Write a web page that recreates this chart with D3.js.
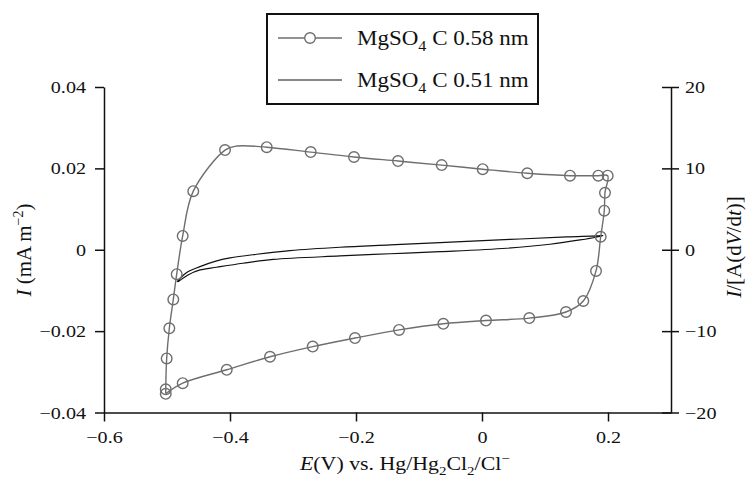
<!DOCTYPE html>
<html>
<head>
<meta charset="utf-8">
<script src="https://cdn.jsdelivr.net/npm/d3@7"></script>
<style>
  html, body { margin: 0; padding: 0; background: #fff; }
  svg { display: block; }
  text { font-family: "Liberation Serif", "Times New Roman", serif; fill: #111; }
</style>
</head>
<body>
<svg id="chart" width="754" height="486"></svg>
<script>
// ---------- data ----------
const xTicks = [-0.6, -0.4, -0.2, 0, 0.2];
const xTickLabels = ["\u22120.6", "\u22120.4", "\u22120.2", "0", "0.2"];
const yTicks = [0.04, 0.02, 0, -0.02, -0.04];
const yTickLabels = ["0.04", "0.02", "0", "\u22120.02", "\u22120.04"];
const y2Ticks = [20, 10, 0, -10, -20];
const y2TickLabels = ["20", "10", "0", "\u221210", "\u221220"];
const seriesNames = ["MgSO4 C 0.58 nm", "MgSO4 C 0.51 nm"];

// MgSO4 C 0.58 nm – line vertices (closed loop)
const line058E = [-0.502, -0.502, -0.5005, -0.4963, -0.490, -0.4846, -0.4751, -0.4583, -0.4079, -0.389,
  -0.3417, -0.2719, -0.2032, -0.1333, -0.0640, 0.0011, 0.0719, 0.1397, 0.1846, 0.1995,
  0.1952, 0.1941, 0.1884, 0.1810, 0.1608, 0.1333, 0.0751, 0.0063, -0.0614, -0.1317,
  -0.2016, -0.2687, -0.3365, -0.4052, -0.4751, -0.502];
const line058I = [-0.0354, -0.0343, -0.0267, -0.0193, -0.0122, -0.0060, 0.0034, 0.0144, 0.0245, 0.0255,
  0.0252, 0.0240, 0.0228, 0.0218, 0.0208, 0.0198, 0.0188, 0.0182, 0.0182, 0.0182,
  0.0140, 0.0096, 0.0032, -0.0052, -0.0126, -0.0153, -0.0168, -0.0174, -0.0182, -0.0197,
  -0.0217, -0.0238, -0.0263, -0.0295, -0.0328, -0.0354];
// MgSO4 C 0.58 nm – circle markers
const mark058E = [-0.502, -0.502, -0.5005, -0.4963, -0.490, -0.4846, -0.4751, -0.4583, -0.4079,
  -0.3417, -0.2719, -0.2032, -0.1333, -0.0640, 0.0011, 0.0719, 0.1397, 0.1846, 0.1995,
  0.1952, 0.1941, 0.1884, 0.1810, 0.1608, 0.1333, 0.0751, 0.0063, -0.0614, -0.1317,
  -0.2016, -0.2687, -0.3365, -0.4052, -0.4751];
const mark058I = [-0.0354, -0.0343, -0.0267, -0.0193, -0.0122, -0.0060, 0.0034, 0.0144, 0.0245,
  0.0252, 0.0240, 0.0228, 0.0218, 0.0208, 0.0198, 0.0188, 0.0182, 0.0182, 0.0182,
  0.0140, 0.0096, 0.0032, -0.0052, -0.0126, -0.0153, -0.0168, -0.0174, -0.0182, -0.0197,
  -0.0217, -0.0238, -0.0263, -0.0295, -0.0328];

// MgSO4 C 0.51 nm – thin loop (upper branch then lower branch back)
const line051E = [-0.4841, -0.4698, -0.4476, -0.4238, -0.4000, -0.3576, -0.3048, -0.2254, -0.1460, -0.0667,
  0.0444, 0.1344, 0.1821, 0.1921, 0.1821, 0.1556, 0.1079, 0.0392, -0.0667, -0.1460,
  -0.2254, -0.3317, -0.3794, -0.4211, -0.4476, -0.4667, -0.4825];
const line051I = [-0.0079, -0.0057, -0.00415, -0.00287, -0.00201, -0.00111, -0.00022, 0.00061, 0.00118, 0.00174,
  0.00253, 0.00314, 0.00339, 0.00351, 0.00314, 0.00241, 0.00135, 0.00037, -0.00047, -0.00098,
  -0.00152, -0.00238, -0.00332, -0.00430, -0.00496, -0.00619, -0.0079];

// ---------- layout ----------
const svg = d3.select("#chart");
const mLeft = 104, mRight = 671, mTop = 87, mBottom = 412.5;
const x = d3.scaleLinear().domain([-0.6, 0.3]).range([mLeft, mRight]);
const y = d3.scaleLinear().domain([-0.04, 0.04]).range([mBottom, mTop]);
const y2 = d3.scaleLinear().domain([-20, 20]).range([mBottom, mTop]);
const STRETCH = 1.15;

function stretch(sel, f) {
  sel.each(function () {
    const L = this.getComputedTextLength();
    d3.select(this).attr("textLength", L * f).attr("lengthAdjust", "spacingAndGlyphs");
  });
}

// ---------- axes ----------
const axisColor = "#111";
// bottom
const gx = svg.append("g").attr("transform", `translate(0,${mBottom})`)
  .call(d3.axisBottom(x).tickValues(xTicks).tickSize(9).tickSizeOuter(0).tickFormat((d, i) => xTickLabels[i]));
gx.select(".domain").attr("stroke", axisColor).attr("stroke-width", 1.5);
gx.selectAll(".tick line").attr("stroke", axisColor).attr("stroke-width", 1.5);
gx.selectAll(".tick text").attr("font-size", 17.5).attr("y", 18).attr("dy", "0.71em")
  .attr("font-family", "Liberation Serif").attr("fill", "#111");
stretch(gx.selectAll(".tick text"), STRETCH);

// left
const gy = svg.append("g").attr("transform", `translate(${mLeft},0)`)
  .call(d3.axisLeft(y).tickValues(yTicks).tickSize(9).tickSizeOuter(0).tickFormat((d, i) => yTickLabels[i]));
gy.select(".domain").attr("stroke", axisColor).attr("stroke-width", 1.5);
gy.selectAll(".tick line").attr("stroke", axisColor).attr("stroke-width", 1.5);
gy.selectAll(".tick text").attr("font-size", 17.5).attr("x", -18)
  .attr("font-family", "Liberation Serif").attr("fill", "#111");
stretch(gy.selectAll(".tick text"), STRETCH);

// right (ticks crossing the axis)
const gy2 = svg.append("g").attr("transform", `translate(${mRight},0)`)
  .call(d3.axisRight(y2).tickValues(y2Ticks).tickSize(9).tickSizeOuter(0).tickFormat((d, i) => y2TickLabels[i]));
gy2.select(".domain").attr("stroke", axisColor).attr("stroke-width", 1.5);
gy2.selectAll(".tick line").attr("stroke", axisColor).attr("stroke-width", 1.5).attr("x1", -9).attr("x2", 8);
gy2.selectAll(".tick text").attr("font-size", 17.5).attr("x", 14)
  .attr("font-family", "Liberation Serif").attr("fill", "#111");
stretch(gy2.selectAll(".tick text"), STRETCH);

// ---------- series ----------
const pts058 = line058E.map((e, i) => [e, line058I[i]]);
const marks058 = mark058E.map((e, i) => [e, mark058I[i]]);
const pts051 = line051E.map((e, i) => [e, line051I[i]]);
const lineGen = d3.line().x(d => x(d[0])).y(d => y(d[1])).curve(d3.curveCatmullRom.alpha(0.5));

svg.append("path").datum(pts051).attr("d", lineGen)
  .attr("fill", "none").attr("stroke", "#111").attr("stroke-width", 1.2);

svg.append("path").datum(pts058).attr("d", lineGen)
  .attr("fill", "none").attr("stroke", "#6e6e6e").attr("stroke-width", 1.4);

svg.append("g").selectAll("circle").data(marks058).join("circle")
  .attr("cx", d => x(d[0])).attr("cy", d => y(d[1])).attr("r", 5.3)
  .attr("fill", "none").attr("stroke", "#6e6e6e").attr("stroke-width", 1.4);

// ---------- legend ----------
const lg = svg.append("g");
lg.append("rect").attr("x", 267).attr("y", 14).attr("width", 271).attr("height", 90)
  .attr("fill", "#fff").attr("stroke", "#111").attr("stroke-width", 2);
const rows = [38, 80];
rows.forEach((ry, i) => {
  lg.append("line").attr("x1", 278).attr("x2", 342).attr("y1", ry).attr("y2", ry)
    .attr("stroke", i === 0 ? "#6e6e6e" : "#111").attr("stroke-width", i === 0 ? 1.4 : 1.2);
  if (i === 0) {
    lg.append("circle").attr("cx", 310).attr("cy", ry).attr("r", 5.3)
      .attr("fill", "#fff").attr("stroke", "#6e6e6e").attr("stroke-width", 1.4);
  }
  const name = seriesNames[i];
  const t = lg.append("text").attr("x", 357).attr("y", ry + 7).attr("font-size", 20);
  t.append("tspan").text(name.slice(0, 4));
  t.append("tspan").attr("font-size", 14).attr("dy", 6).text(name.slice(4, 5));
  t.append("tspan").attr("dy", -6).text(name.slice(5));
  stretch(t, STRETCH);
});

// ---------- axis titles ----------
const xt = svg.append("text").attr("x", 300).attr("y", 470).attr("font-size", 19);
xt.append("tspan").attr("font-style", "italic").text("E");
xt.append("tspan").text("(V) vs. Hg/Hg");
xt.append("tspan").attr("font-size", 13).attr("dy", 5).text("2");
xt.append("tspan").attr("dy", -5).text("Cl");
xt.append("tspan").attr("font-size", 13).attr("dy", 5).text("2");
xt.append("tspan").attr("dy", -5).text("/Cl");
xt.append("tspan").attr("font-size", 13).attr("dy", -7).text("\u2212");
stretch(xt, STRETCH);

const ylt = svg.append("text").attr("transform", "translate(31,250) rotate(-90)")
  .attr("text-anchor", "middle").attr("font-size", 21);
ylt.append("tspan").attr("font-style", "italic").text("I");
ylt.append("tspan").text(" (mA m");
ylt.append("tspan").attr("font-size", 14).attr("dy", -8).text("\u22122");
ylt.append("tspan").attr("dy", 8).text(")");

const yrt = svg.append("text").attr("transform", "translate(741,247) rotate(-90)")
  .attr("text-anchor", "middle").attr("font-size", 21);
yrt.append("tspan").attr("font-style", "italic").text("I");
yrt.append("tspan").text("/[A(d");
yrt.append("tspan").attr("font-style", "italic").text("V");
yrt.append("tspan").text("/d");
yrt.append("tspan").attr("font-style", "italic").text("t");
yrt.append("tspan").text(")]");
</script>
</body>
</html>
